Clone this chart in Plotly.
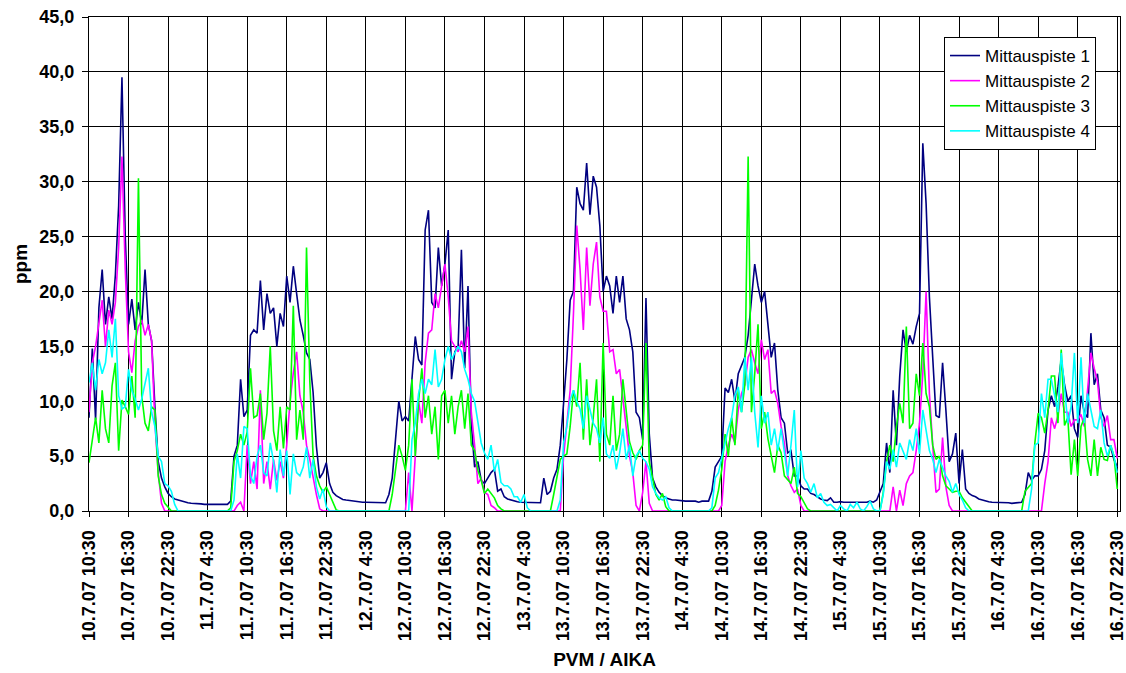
import pandas as pd
import plotly.graph_objects as go

# ---------------- data (ppm, 30-minute readings from 10.7.07 10:30) ----------------
START = "2007-07-10 10:30"
STEP = "30min"

# Mittauspiste 1
s1_d1 = [8.5, 14.8, 8.3, 18.5, 22, 17, 19.5, 17.5, 21.5, 27.8, 39.5, 25, 17, 19.3, 16.5, 19, 17, 22, 17, 15.5,
         9.5, 4.5, 3, 2.2, 1.6, 1.3, 1.1, 1.0, 0.9, 0.8, 0.75, 0.7, 0.7, 0.65, 0.65, 0.6, 0.6, 0.6, 0.6, 0.6,
         0.6, 0.65, 0.6, 0.9, 5, 6, 12, 8.6]
s1_d2 = [9.2, 16, 16.5, 16.2, 21, 16.5, 19.8, 18, 18.5, 15, 18, 16.8, 21.4, 19, 22.3, 19.8, 17.4, 16, 14.4, 13.8,
         10.8, 5.9, 3, 3.5, 4.4, 2.5, 1.7, 1.4, 1.2, 1.05, 1.0, 0.95, 0.9, 0.9, 0.85, 0.8, 0.8, 0.8, 0.75, 0.75,
         0.75, 0.8, 0.75, 1.5, 3, 6.5, 10, 8.2]
s1_d3 = [8.6, 8.2, 12, 15.9, 13.8, 13.3, 25.6, 27.4, 19, 18.5, 24, 20.5, 22.5, 25.6, 12, 14.5, 15, 23.8, 13, 20.5,
         8, 4, 4.5, 2.8, 2.5, 3, 3.5, 3.8, 1.8, 2, 1.3, 1.1, 1.0, 0.9, 0.85, 0.8, 0.8, 0.75, 0.75, 0.75,
         0.8, 0.75, 3.0, 1.5, 1.8, 3.0, 3.8, 6]
s1_d4 = [9.8, 13.8, 19.2, 20, 29.5, 28, 27.4, 31.7, 27, 30.5, 29.5, 26, 20, 21.4, 20.5, 18, 21.4, 19, 21.4, 17.5,
         16.5, 14.5, 9, 8.5, 6.5, 19.4, 7, 3, 2.2, 1.7, 1.4, 1.2, 1.1, 1.0, 1.0, 0.95, 0.95, 0.9, 0.9, 0.9,
         0.9, 0.8, 0.9, 0.9, 0.9, 1.8, 4, 4.5]
s1_d5 = [5, 11.2, 10.8, 12, 10, 12.5, 13.3, 14, 16, 19.5, 22.5, 20.5, 19, 20, 16.8, 14, 15.3, 11, 8.5, 8,
         5.3, 5.5, 3.2, 3.2, 2.3, 2, 2, 1.6, 1.5, 1.3, 1.1, 1.0, 0.95, 1.2, 0.8, 0.8, 0.85, 0.8, 0.8, 0.85,
         0.8, 0.8, 0.8, 0.8, 0.8, 0.9, 0.8, 1]
s1_d6 = [1.7, 2.5, 6.2, 3.5, 11, 6, 12.3, 16.5, 14.5, 16, 15.2, 16.8, 18, 33.5, 28, 19.5, 14, 8.7, 8.5, 13.5,
         9.2, 4.5, 5.2, 7.1, 2.5, 5.6, 2, 1.6, 1.4, 1.3, 1.1, 1.0, 0.9, 0.85, 0.8, 0.8, 0.75, 0.75, 0.75, 0.75,
         0.7, 0.75, 0.75, 0.8, 1.5, 3.5, 2.8, 3.2]
s1_d7 = [3.2, 3.8, 5.5, 9.2, 10.5, 9.5, 11.3, 13.8, 11.5, 10, 10.5, 7.5, 6.7, 10.5, 9, 8.5, 16.2, 11.5, 12.5, 9.2,
         8.5, 6, 5.8, 4.7, 4.0]

# Mittauspiste 2
s2_d1 = [9, 13.5, 15, 17, 19.2, 15, 18.3, 17, 19, 24, 32.3, 22, 14.5, 12.6, 15.5, 16.8, 17.4, 16, 17, 15.5,
         8, 3.5, 0.7, 0, 0, 0, 0, 0, 0, 0, 0, 0, 0, 0, 0, 0, 0, 0, 0, 0,
         0, 0, 0, 0, 0, 0.5, 0.8, 0]
s2_d2 = [6, 2.5, 4.5, 2, 11, 2.5, 4.5, 2, 4.7, 2.8, 4.5, 3, 6, 10, 12.6, 14.5, 10.5, 9, 6, 4.7,
         3, 1.5, 0.2, 0, 0, 0, 0, 0, 0, 0, 0, 0, 0, 0, 0, 0, 0, 0, 0, 0,
         0, 0, 0, 0, 0, 0, 0, 0]
s2_d3 = [0, 3.5, 0, 5, 10, 8, 13.5, 16.2, 16.5, 19.8, 18.5, 20.5, 22.5, 19.5, 15.5, 15, 14.5, 15.5, 14.5, 16.8,
         9, 6, 2.5, 3, 1.7, 1.5, 0.5, 0.3, 0, 0, 0, 0, 0, 0, 0, 0, 0, 0, 0, 0,
         0, 0, 0, 0, 0, 0, 0, 0]
s2_d4 = [5, 7.7, 11, 18, 26, 22, 16.5, 24, 18.7, 22.5, 24.5, 19.5, 18.2, 18.2, 14.5, 14.7, 12.5, 12.9, 10.4, 8,
         5, 3.5, 0.5, 0, 1.7, 4.5, 0.7, 0, 0, 0, 0, 0, 0, 0, 0, 0, 0, 0, 0, 0,
         0, 0, 0, 0, 0, 0, 0, 0]
s2_d5 = [0.5, 4.5, 6, 7, 6.2, 9.2, 10.7, 11.5, 14, 14.7, 13.5, 12.5, 15.6, 13.8, 14.7, 10.7, 11, 9.8, 7.7, 6.2,
         3.2, 2.3, 1.7, 2, 0.5, 0, 0, 0, 0, 0, 0, 0, 0, 0, 0, 0, 0, 0, 0, 0,
         0, 0, 0, 0, 0, 0, 0, 0]
s2_d6 = [0, 0, 0, 0, 2.2, 0, 1.9, 0.5, 2.5, 3.2, 3.5, 5.5, 8, 12.5, 20, 10.7, 6, 1.7, 2, 6.7,
         2.2, 0.5, 0, 0, 0, 0, 0, 0, 0, 0, 0, 0, 0, 0, 0, 0, 0, 0, 0, 0,
         0, 0, 0, 0, 0, 0, 0, 0]
s2_d7 = [0, 0, 2.5, 4.5, 8.5, 7.5, 8.7, 10.7, 9, 9, 7.7, 8.3, 8.3, 8.8, 7.7, 11, 14.4, 13, 11.8, 8.5,
         7.7, 8.7, 6.5, 6.5, 4.8]

# Mittauspiste 3
s3_d1 = [4.4, 6.5, 8.5, 6.2, 11, 7.5, 6.2, 11.4, 13.5, 5.5, 10.1, 9.5, 8.8, 12.3, 8.5, 30.3, 10.5, 8, 7.3, 9.5,
         9.2, 3.2, 1.5, 0.7, 0.3, 0, 0, 0, 0, 0, 0, 0, 0, 0, 0, 0, 0, 0, 0, 0,
         0, 0, 0, 0.3, 4.5, 5.5, 7, 6]
s3_d2 = [7.2, 13, 8.5, 8.7, 10.7, 6.5, 8.9, 15, 7.3, 5.5, 9.5, 5.7, 9.5, 9.2, 18.7, 6.5, 9.2, 6.5, 24, 11.8,
         5, 3.2, 2.3, 1.7, 2.2, 1.5, 0.8, 0.1, 0, 0, 0, 0, 0, 0, 0, 0, 0, 0, 0, 0,
         0, 0, 0, 0, 1.5, 3.8, 6, 5]
s3_d3 = [3.7, 6, 12, 5, 10, 13, 8.5, 10.5, 7, 9.5, 4.7, 10.5, 11, 8, 10.5, 7, 9.5, 11, 7.5, 10.7,
         6, 5.5, 3.7, 2.8, 1.6, 2, 1.6, 1.2, 0.5, 0.2, 0, 0, 0, 0, 0, 0, 0, 0, 0, 0,
         0, 0, 0, 0, 0, 1.5, 3.2, 4.7]
s3_d4 = [5, 5.2, 7.7, 11, 9.5, 13.5, 6.5, 12, 6, 8.5, 12, 4.5, 15.3, 7, 6, 10.5, 5.5, 7, 12, 9,
         6.3, 5.3, 4.7, 5.5, 6, 15.3, 4.5, 3, 1.5, 1, 1.6, 0.4, 0, 0, 0, 0, 0, 0, 0, 0,
         0, 0, 0, 0, 0, 0, 0.5, 1.9]
s3_d5 = [3.8, 7, 5, 8.5, 6, 11, 9, 11.5, 32.3, 9, 12.5, 17, 7.5, 9, 6.6, 5.2, 3.5, 6, 5.3, 3.2,
         2.8, 2.5, 4, 1.6, 1.3, 0.7, 0.2, 0, 0, 0, 0, 0, 0, 0, 0, 0, 0, 0, 0, 0,
         0, 0, 0, 0, 0, 0, 0, 0]
s3_d6 = [0, 1.7, 4.5, 6, 4.5, 7.7, 9.8, 8, 16.8, 7.5, 8, 12.5, 10.5, 15.3, 10.7, 9.5, 6, 4.7, 5, 3.2,
         2.3, 2, 1.7, 1.8, 1.8, 1.2, 0.8, 0.3, 0, 0, 0, 0, 0, 0, 0, 0, 0, 0, 0, 0,
         0, 0, 0, 0, 1.8, 2.2, 2.5, 6.2]
s3_d7 = [8.9, 8.5, 7.1, 9.2, 12.3, 12.3, 8, 14.7, 7.8, 8.5, 3.3, 6.5, 3.2, 7.7, 8.5, 4.7, 3.2, 6.5, 3.2, 5.8,
         4.7, 4.6, 6, 5, 2]

# Mittauspiste 4
s4_d1 = [11.7, 13.5, 11, 13.8, 12.5, 13.5, 16.5, 14, 17.5, 10.5, 9.3, 9.5, 12.9, 11, 10.2, 9.2, 10.2, 11.5, 13, 9,
         7.7, 5, 4.5, 2.5, 2.3, 1.8, 0.6, 0, 0, 0, 0, 0, 0, 0, 0, 0, 0, 0, 0, 0,
         0, 0, 0, 0, 1, 5.2, 3, 7.7]
s4_d2 = [7.5, 3.2, 2.5, 5, 6, 3.5, 3.2, 6.2, 4.5, 1.7, 5.6, 3.2, 5.5, 1.5, 5.2, 3.5, 3.2, 4, 5.8, 3,
         4.7, 2.2, 1.1, 2, 0.4, 0, 0, 0, 0, 0, 0, 0, 0, 0, 0, 0, 0, 0, 0, 0,
         0, 0, 0, 0, 0, 0, 0, 0]
s4_d3 = [0, 0, 6.5, 8, 10.7, 12, 10.7, 12, 11.5, 14.7, 11.3, 12, 13.8, 15, 13.8, 14.4, 15, 14.5, 12.9, 12,
         10.7, 10, 8, 6.2, 5.3, 4.7, 6, 3.6, 4.7, 2.6, 2.3, 2.3, 2, 1.3, 1.3, 0.8, 1.5, 0.3, 0, 0,
         0, 0, 0, 0, 0, 0, 0, 1]
s4_d4 = [6.2, 7.7, 10.1, 11, 10, 9.3, 7.5, 10.5, 9.2, 8, 7.5, 6.2, 8.5, 5.2, 4.8, 6, 3.8, 5.3, 7.5, 4.7,
         6, 3.2, 5, 5.5, 4.8, 4.5, 3.8, 2.2, 1.6, 1.2, 1, 1.3, 0.3, 0, 0, 0, 0, 0, 0, 0,
         0, 0, 0, 0, 0, 0.3, 3, 3.5]
s4_d5 = [5, 6.2, 7.5, 8.5, 10.5, 11.3, 9, 14, 11, 14, 9, 5.8, 10.5, 8, 9, 6, 7.5, 5.5, 7.5, 5.3,
         3.2, 6, 9.2, 2.2, 5.5, 3, 2.5, 1.7, 2.5, 1.2, 1.6, 0.8, 0.5, 0.6, 0.3, 0, 0.5, 0.2, 0, 0.6,
         0.3, 0.8, 0.2, 0, 0.4, 0.9, 0.2, 0]
s4_d6 = [0, 1.5, 4.5, 3.8, 5.6, 4, 6.2, 5.5, 4.7, 6.5, 5.5, 7.5, 5.2, 9.2, 7.5, 5.5, 4.7, 3.5, 4.7, 4,
         3.2, 2.7, 1.7, 2.5, 1.5, 1, 0.3, 0, 0, 0, 0, 0, 0, 0, 0, 0, 0, 0, 0, 0,
         0, 0, 0, 0, 0, 0, 2, 6]
s4_d7 = [6.2, 10.7, 8.5, 12, 12, 10.5, 9, 14.4, 11.5, 8, 9.5, 14.4, 8, 14, 8, 10.7, 9.2, 7.7, 7.5, 9.2,
         6.2, 5, 6, 5, 3.5]

series_names = ["Mittauspiste 1", "Mittauspiste 2", "Mittauspiste 3", "Mittauspiste 4"]
series_colors = ["#000080", "#FF00FF", "#00FF00", "#00FFFF"]

tick_labels = ["10.7.07 10:30", "10.7.07 16:30", "10.7.07 22:30", "11.7.07 4:30", "11.7.07 10:30",
               "11.7.07 16:30", "11.7.07 22:30", "12.7.07 4:30", "12.7.07 10:30", "12.7.07 16:30",
               "12.7.07 22:30", "13.7.07 4:30", "13.7.07 10:30", "13.7.07 16:30", "13.7.07 22:30",
               "14.7.07 4:30", "14.7.07 10:30", "14.7.07 16:30", "14.7.07 22:30", "15.7.07 4:30",
               "15.7.07 10:30", "15.7.07 16:30", "15.7.07 22:30", "16.7.07 4:30", "16.7.07 10:30",
               "16.7.07 16:30", "16.7.07 22:30"]

# ---------------- build ----------------
all_series = [
    s1_d1 + s1_d2 + s1_d3 + s1_d4 + s1_d5 + s1_d6 + s1_d7,
    s2_d1 + s2_d2 + s2_d3 + s2_d4 + s2_d5 + s2_d6 + s2_d7,
    s3_d1 + s3_d2 + s3_d3 + s3_d4 + s3_d5 + s3_d6 + s3_d7,
    s4_d1 + s4_d2 + s4_d3 + s4_d4 + s4_d5 + s4_d6 + s4_d7,
]
for vals in all_series:
    assert len(vals) == 313, len(vals)

times = pd.date_range(START, periods=313, freq=STEP)
tick_vals = pd.date_range(START, periods=len(tick_labels), freq="6h")
x_end = times[-1] + pd.Timedelta(minutes=25)

FONT = "Liberation Sans, Arial, sans-serif"

fig = go.Figure()
for name, color, vals in zip(series_names, series_colors, all_series):
    fig.add_trace(go.Scatter(x=times, y=vals, mode="lines", name=name, legendgroup=name,
                             line=dict(color=color, width=1.6)))

fig.update_layout(
    width=1126, height=673,
    margin=dict(l=89, r=6, t=17, b=162),
    paper_bgcolor="white", plot_bgcolor="white",
    separators=", ",
    font=dict(family=FONT, color="black"),
    showlegend=True,
    legend=dict(x=(944 - 89) / 1031, y=(511 - 37) / 494, xanchor="left", yanchor="top",
                bgcolor="white", bordercolor="black", borderwidth=1,
                font=dict(family=FONT, size=17, color="black"),
                itemwidth=30, tracegroupgap=7, traceorder="normal"),
)

fig.update_xaxes(
    range=[times[0], x_end],
    tickmode="array", tickvals=tick_vals, ticktext=tick_labels,
    tickangle=-90, tickfont=dict(family=FONT, size=18, weight="bold"),
    ticklabeloverflow="allow",
    ticks="outside", ticklen=5, tickcolor="black", ticklabelstandoff=6,
    showgrid=True, gridcolor="black", gridwidth=1,
    showline=True, linecolor="black", linewidth=1, mirror=True,
    zeroline=False, automargin=False,
    title=dict(text="PVM / AIKA", font=dict(family=FONT, size=19, weight="bold"), standoff=12),
)
fig.update_yaxes(
    range=[0, 45], dtick=5, tick0=0, tickformat=".1f",
    tickfont=dict(family=FONT, size=18, weight="bold"),
    ticks="outside", ticklen=6, tickcolor="black", ticklabelstandoff=4,
    showgrid=True, gridcolor="black", gridwidth=1,
    showline=True, linecolor="black", linewidth=1, mirror=True,
    zeroline=False, automargin=False,
    title=dict(text="ppm", font=dict(family=FONT, size=19, weight="bold"), standoff=6),
)

fig.write_html("out.html")
